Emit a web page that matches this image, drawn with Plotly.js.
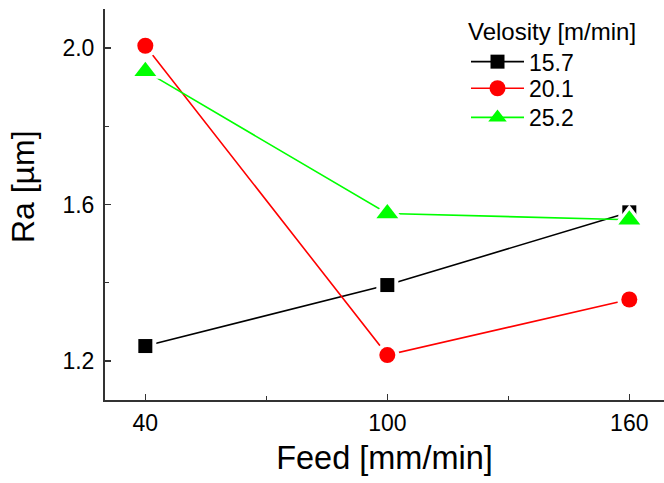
<!DOCTYPE html>
<html>
<head>
<meta charset="utf-8">
<script src="https://cdn.plot.ly/plotly-3.0.1.min.js"></script>
<style>
  html, body { margin: 0; padding: 0; background: #ffffff; }
  #chart { width: 664px; height: 483px; }
</style>
</head>
<body>
<div id="chart"></div>
<script>
// Surface roughness Ra versus feed, one series per cutting velocity
const feed = [40, 100, 160];
const velocityLabels = ['15.7', '20.1', '25.2'];
const ra157 = [1.238, 1.394, 1.580];
const ra201 = [2.006, 1.215, 1.357];
const ra252 = [1.941, 1.577, 1.561];

const FONT = 'Liberation Sans, Arial, Helvetica, sans-serif';

// Each series: the connecting line (with legend entry), a white halo that
// opens a small gap between line and symbol, then the symbol itself.
function series(name, y, color, symbol, size, haloSize, legendId) {
  const line = {
    type: 'scatter', mode: 'lines+markers', name: name, legend: legendId,
    x: feed, y: y,
    line: { color: color, width: 1.6 },
    marker: { symbol: symbol, size: size, color: color },
    cliponaxis: false
  };
  const halo = {
    type: 'scatter', mode: 'markers', showlegend: false, hoverinfo: 'skip',
    x: feed, y: y,
    marker: { symbol: symbol, size: haloSize, color: '#ffffff' },
    cliponaxis: false
  };
  const mark = {
    type: 'scatter', mode: 'markers', showlegend: false,
    x: feed, y: y,
    marker: { symbol: symbol, size: size, color: color },
    cliponaxis: false
  };
  return [line, halo, mark];
}

const data = [].concat(
  series(velocityLabels[0], ra157, '#000000', 'square', 14, 22, 'legend'),
  series(velocityLabels[1], ra201, '#ff0000', 'circle', 16, 24, 'legend2'),
  series(velocityLabels[2], ra252, '#00ff00', 'triangle-up', 19, 30, 'legend3')
);

const axisCommon = {
  showgrid: false,
  zeroline: false,
  showline: true,
  linecolor: '#333333',
  linewidth: 2,
  ticks: 'inside',
  ticklen: 6,
  tickwidth: 1.5,
  tickcolor: '#333333',
  tickfont: { family: FONT, size: 23, color: '#000000' },
  mirror: false
};

const legendFont = { family: FONT, size: 23, color: '#000000' };
const legendCommon = {
  font: legendFont,
  x: 0.6458,
  xanchor: 'left',
  bgcolor: 'rgba(0,0,0,0)',
  borderwidth: 0,
  itemwidth: 53
};

const layout = {
  width: 664,
  height: 483,
  margin: { l: 105, r: 0, t: 9, b: 83 },
  paper_bgcolor: '#ffffff',
  plot_bgcolor: '#ffffff',
  font: { family: FONT, color: '#000000' },
  xaxis: Object.assign({}, axisCommon, {
    range: [30, 168.6],
    tickmode: 'linear',
    tick0: 40,
    dtick: 60,
    ticklabelstandoff: 1,
    minor: { tickmode: 'linear', tick0: 40, dtick: 30, ticks: 'inside', ticklen: 4, tickwidth: 1.5, tickcolor: '#333333' },
    title: { text: 'Feed [mm/min]', font: { family: FONT, size: 32.5, color: '#000000' }, standoff: 12 }
  }),
  yaxis: Object.assign({}, axisCommon, {
    range: [1.1, 2.1],
    tickmode: 'linear',
    tick0: 1.2,
    dtick: 0.4,
    tickformat: '.1f',
    ticklabelstandoff: 4,
    minor: { tickmode: 'linear', tick0: 1.2, dtick: 0.2, ticks: 'inside', ticklen: 4, tickwidth: 1.5, tickcolor: '#333333' }
  }),
  annotations: [{
    text: 'Ra [µm]',
    xref: 'paper', yref: 'paper',
    x: -0.1467, y: 0.547,
    xanchor: 'center', yanchor: 'middle',
    textangle: -90,
    showarrow: false,
    font: { family: FONT, size: 32, color: '#000000' }
  }],
  legend: Object.assign({}, legendCommon, {
    title: { text: 'Velosity [m/min]', font: { family: FONT, size: 24, color: '#000000' } },
    y: 1.0, yanchor: 'top'
  }),
  legend2: Object.assign({}, legendCommon, { y: 0.7972, yanchor: 'middle' }),
  legend3: Object.assign({}, legendCommon, { y: 0.7226, yanchor: 'middle' }),
  showlegend: true
};

Plotly.newPlot('chart', data, layout, { displayModeBar: false, staticPlot: true });
</script>
</body>
</html>
